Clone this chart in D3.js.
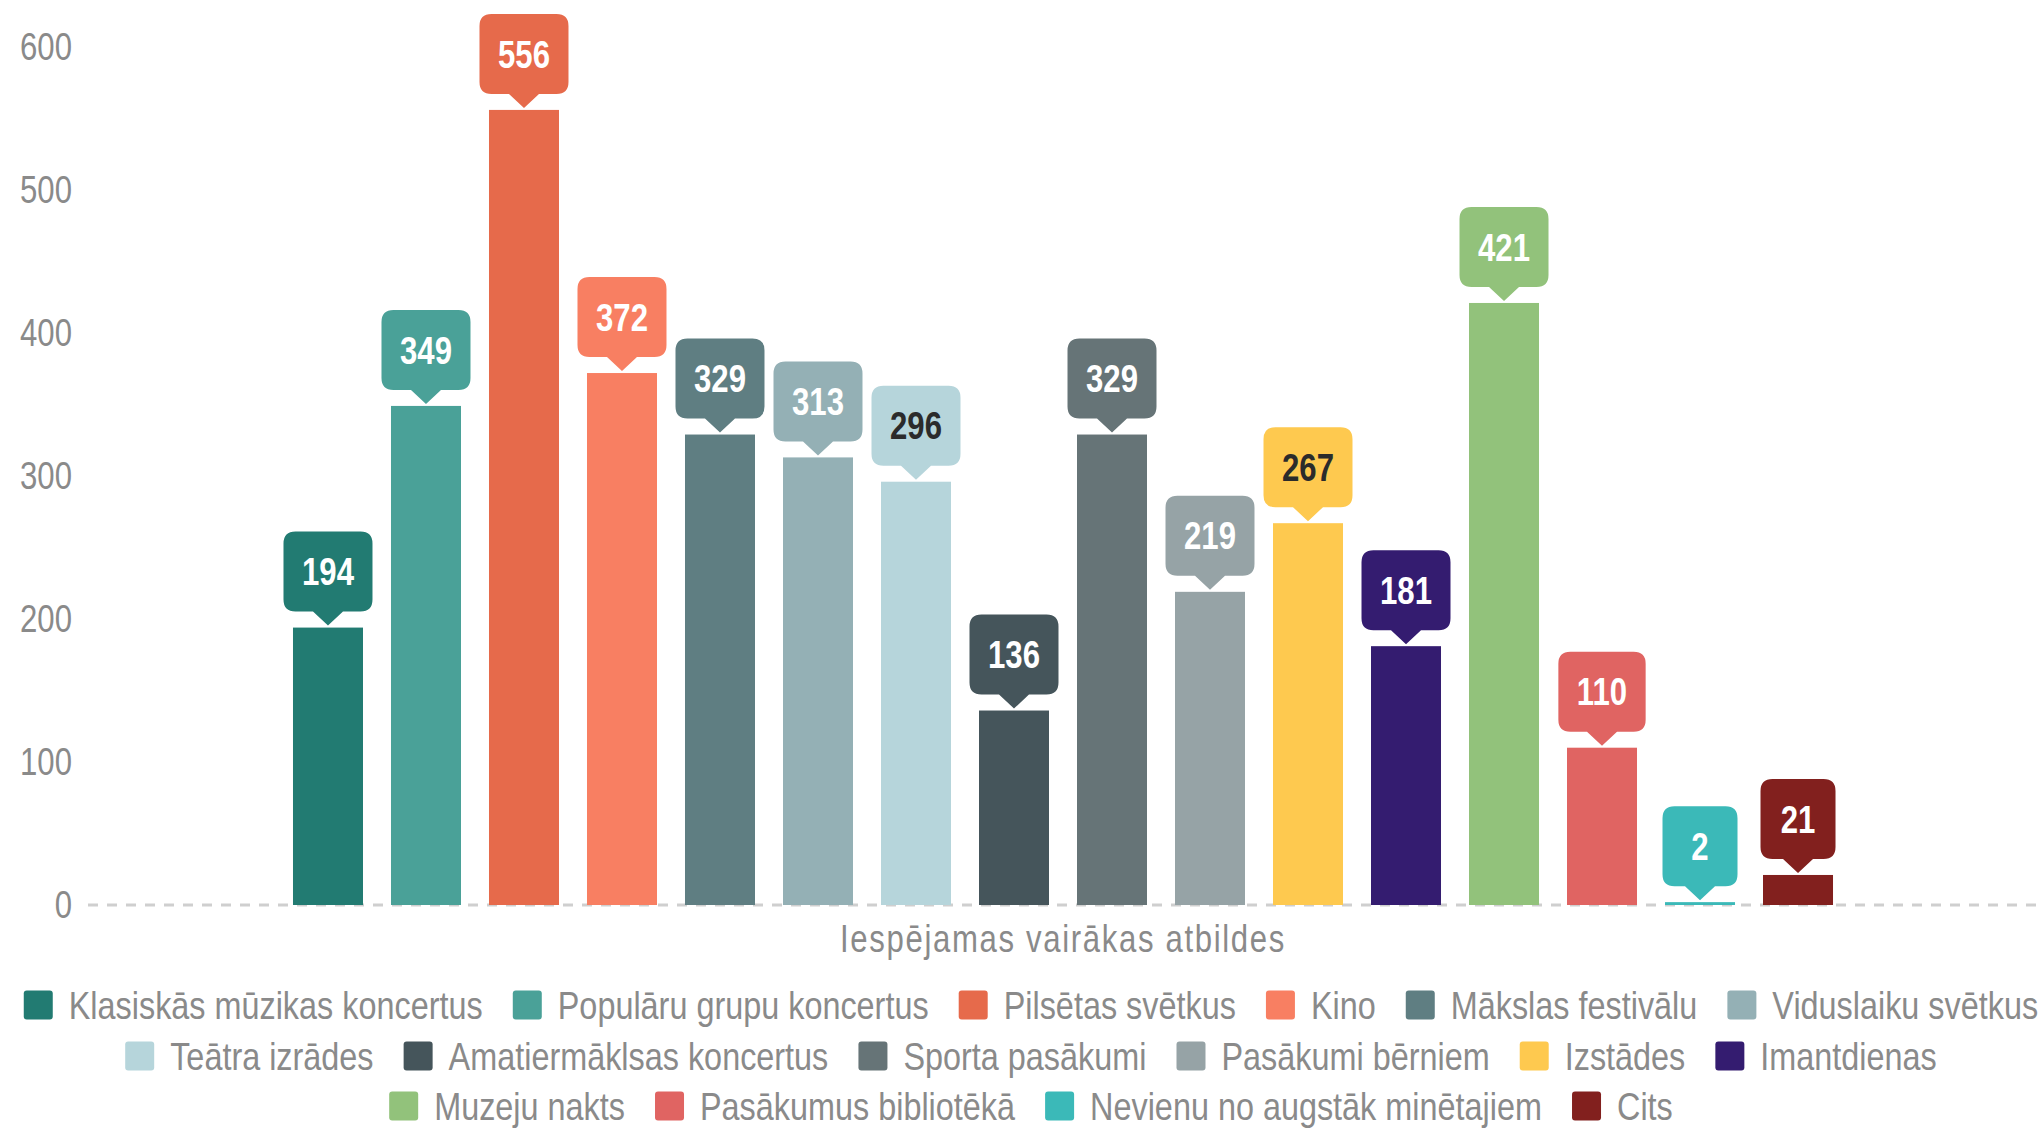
<!DOCTYPE html>
<html>
<head>
<meta charset="utf-8">
<script src="https://cdn.jsdelivr.net/npm/d3@7"></script>
<style>
  html, body { margin: 0; padding: 0; background: #fff; }
  svg { display: block; }
</style>
</head>
<body>
<div id="wrapper"></div>
<script>
// Data
const categories = [
  "Klasiskās mūzikas koncertus",
  "Populāru grupu koncertus",
  "Pilsētas svētkus",
  "Kino",
  "Mākslas festivālu",
  "Viduslaiku svētkus",
  "Teātra izrādes",
  "Amatiermāklsas koncertus",
  "Sporta pasākumi",
  "Pasākumi bērniem",
  "Izstādes",
  "Imantdienas",
  "Muzeju nakts",
  "Pasākumus bibliotēkā",
  "Nevienu no augstāk minētajiem",
  "Cits",
];
const values = [194, 349, 556, 372, 329, 313, 296, 136, 329, 219, 267, 181, 421, 110, 2, 21];
const colors = [
  "#227b72", "#4aa198", "#e66a4b", "#f87f62", "#5f7e82", "#94b0b5",
  "#b6d5db", "#45555b", "#667477", "#96a3a6", "#fec94f", "#341c70",
  "#92c27b", "#e06462", "#3bb9b8", "#82201e",
];
const darkLabel = ["Teātra izrādes", "Izstādes"];
const yTicks = [0, 100, 200, 300, 400, 500, 600];
const xCategory = "Iespējamas vairākas atbildes";
const legendRowSizes = [6, 6, 4];

const series = categories.map((name, i) => ({ name, value: values[i], color: colors[i] }));

// Dimensions
const width = 2043;
const height = 1130;
const dims = {
  plotLeft: 88,
  plotRight: 2038,
  lineRight: 2043,
  top: 47,
  baseline: 905,
};

// no narrow font installed -> squeeze Liberation Sans horizontally
const font = "'Liberation Sans', Arial, sans-serif";
const sx = 0.82;
const textGrey = "#8a8a8a";

function squeeze(sel) {
  sel.each(function () {
    const t = d3.select(this);
    const xv = +(t.attr("x") || 0);
    t.attr("x", xv / sx).attr("transform", `scale(${sx},1)`);
  });
}

const svg = d3.select("#wrapper")
  .append("svg")
  .attr("width", width)
  .attr("height", height);

// Scales
const x0 = d3.scaleBand()
  .domain([xCategory])
  .range([dims.plotLeft, dims.plotRight])
  .paddingInner(0)
  .paddingOuter(0.1218);

const x1 = d3.scaleBand()
  .domain(categories)
  .range([0, x0.bandwidth()])
  .paddingInner(0.2857)
  .paddingOuter(0.1429);

const y = d3.scaleLinear()
  .domain([0, 600])
  .range([dims.baseline, dims.top]);

// Y axis
const yAxis = svg.append("g")
  .attr("transform", `translate(${dims.plotLeft},0)`)
  .call(d3.axisLeft(y).tickValues(yTicks).tickSize(0).tickPadding(16));
yAxis.select(".domain").remove();
yAxis.selectAll("text")
  .style("font-family", font)
  .style("font-size", "38px")
  .attr("fill", textGrey)
  .call(squeeze);

// Baseline
svg.append("line")
  .attr("x1", dims.plotLeft)
  .attr("x2", dims.lineRight)
  .attr("y1", y(0))
  .attr("y2", y(0))
  .attr("stroke", "#cfcfcf")
  .attr("stroke-width", 3)
  .style("stroke-dasharray", "10,9");

// Bars
const group = svg.append("g")
  .attr("transform", `translate(${x0(xCategory)},0)`);

group.selectAll("rect.bar")
  .data(series)
  .enter()
  .append("rect")
  .attr("class", "bar")
  .attr("x", (d) => x1(d.name))
  .attr("y", (d) => y(d.value))
  .attr("width", x1.bandwidth())
  .attr("height", (d) => y(0) - y(d.value))
  .attr("fill", (d) => d.color);

// Value callouts
const boxH = 80;
const tipH = 14;
const tipHalf = 15;
const r = 12;

const callouts = group.selectAll("g.callout")
  .data(series)
  .enter()
  .append("g")
  .attr("class", "callout");

const labels = callouts.append("text")
  .text((d) => d.value)
  .style("font-family", font)
  .style("font-size", "38px")
  .style("font-weight", "bold")
  .style("text-anchor", "middle")
  .attr("fill", (d) => darkLabel.includes(d.name) ? "#2b2b2b" : "#ffffff");

labels.each(function (d) {
  d.textW = this.getComputedTextLength() * sx;
});

callouts.insert("path", "text")
  .attr("fill", (d) => d.color)
  .attr("d", (d) => {
    const cx = x1(d.name) + x1.bandwidth() / 2;
    const tipY = y(d.value) - 2;
    const bottom = tipY - tipH;
    const top = bottom - boxH;
    const w = Math.max(75, d.textW + 37);
    const left = cx - w / 2;
    const right = cx + w / 2;
    return [
      `M${left + r},${top}`,
      `H${right - r}`,
      `Q${right},${top} ${right},${top + r}`,
      `V${bottom - r}`,
      `Q${right},${bottom} ${right - r},${bottom}`,
      `H${cx + tipHalf}`,
      `L${cx},${tipY}`,
      `L${cx - tipHalf},${bottom}`,
      `H${left + r}`,
      `Q${left},${bottom} ${left},${bottom - r}`,
      `V${top + r}`,
      `Q${left},${top} ${left + r},${top}`,
      "Z",
    ].join(" ");
  });

labels
  .attr("x", (d) => x1(d.name) + x1.bandwidth() / 2)
  .attr("y", (d) => y(d.value) - 2 - tipH - boxH / 2)
  .attr("dy", "0.36em")
  .call(squeeze);

// X axis (category label)
const xAxis = svg.append("g")
  .attr("transform", `translate(0,${y(0)})`)
  .call(d3.axisBottom(x0).tickSize(0));
xAxis.select(".domain").remove();
xAxis.selectAll("text")
  .attr("y", 34)
  .attr("dy", "0.35em")
  .style("font-family", font)
  .style("font-size", "38px")
  .style("letter-spacing", "2px")
  .attr("fill", textGrey)
  .call(squeeze);

// Legend
const legendCenter = 1031;
const legendRowY = [1005, 1056, 1106];
const swatch = 29;
const swatchGap = 16;
const itemGap = 30;

const legend = svg.append("g").attr("class", "legend");
const items = legend.selectAll("g")
  .data(series)
  .enter()
  .append("g");

items.append("rect")
  .attr("width", swatch)
  .attr("height", swatch)
  .attr("y", -swatch / 2)
  .attr("rx", 3)
  .attr("fill", (d) => d.color);

items.append("text")
  .attr("x", swatch + swatchGap)
  .attr("dy", "0.35em")
  .text((d) => d.name)
  .style("font-family", font)
  .style("font-size", "39.5px")
  .attr("fill", textGrey)
  .each(function (d) {
    d.itemW = swatch + swatchGap + this.getComputedTextLength() * sx;
  })
  .call(squeeze);

let start = 0;
legendRowSizes.forEach((size, row) => {
  const rowItems = series.slice(start, start + size);
  const rowW = d3.sum(rowItems, (d) => d.itemW) + itemGap * (size - 1);
  let xPos = legendCenter - rowW / 2;
  rowItems.forEach((d) => {
    d.lx = xPos;
    d.ly = legendRowY[row];
    xPos += d.itemW + itemGap;
  });
  start += size;
});

items.attr("transform", (d) => `translate(${d.lx},${d.ly})`);
</script>
</body>
</html>
